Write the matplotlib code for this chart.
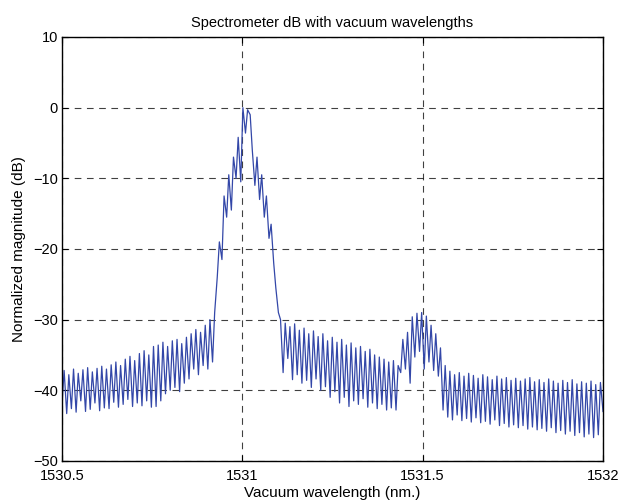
import numpy as np
import matplotlib
matplotlib.use("Agg")
import matplotlib.pyplot as plt

plt.rcParams['font.family'] = ['Liberation Sans', 'DejaVu Sans']

# one value per fringe period: trough (start of period) and peak (middle of period), in dB
troughs = [
    -42.0, -43.3, -42.6, -43.1, -41.5, -43.0, -42.7, -41.8, -42.9, -42.5,
    -42.6, -41.7, -42.4, -42.0, -41.3, -42.3, -41.8, -42.2, -41.5, -42.4,
    -42.3, -41.5, -40.5, -40.0, -39.6, -40.2, -39.0, -38.4, -37.0, -37.8, -36.5,
    -37.0, -36.0, -24.0, -21.5, -15.5, -14.5, -10.0, -10.5, -3.6, -1.0,
    -11.0, -13.0, -15.5, -18.5, -22.0, -29.0,
    -37.5, -35.5, -38.5, -37.8, -39.0, -38.6, -39.6, -38.4, -40.0, -39.5,
    -41.0, -40.2, -41.8, -41.0, -42.3, -41.5, -42.0, -41.2, -42.4, -41.8,
    -42.6, -42.0, -42.8, -42.5, -42.8,
    -37.5, -37.0, -39.0, -35.3, -34.5, -37.0, -36.0, -37.2, -38.0, -42.8,
    -43.8, -44.2, -43.5, -44.3, -44.0, -44.5, -43.9, -44.6, -44.4, -44.8,
    -44.2, -45.0, -44.7, -45.2, -44.9, -45.3, -45.0, -45.5, -45.2, -45.6,
    -45.4, -45.8, -45.3, -46.0, -45.7, -46.2, -45.8, -46.4, -46.0, -46.6,
    -46.2, -46.7, -46.3,
]
peaks = [
    -37.2, -37.8, -37.0, -37.6, -37.1, -36.8, -37.4, -36.9, -36.6, -37.0,
    -36.4, -36.0, -36.5, -35.6, -35.2, -35.8, -34.8, -34.4, -35.0, -33.8,
    -33.6, -33.2, -33.8, -33.0, -32.8, -33.4, -32.5, -32.0, -31.4, -31.8, -30.8,
    -30.0, -29.0, -19.0, -12.5, -9.5, -7.0, -4.2, 0.0, -0.3, -6.0,
    -7.0, -9.5, -12.5, -16.5, -25.5, -30.0,
    -30.5, -31.0, -30.6, -31.5, -31.2, -32.0, -31.6, -32.4, -32.0, -33.0,
    -32.5, -33.2, -32.8, -33.6, -33.3, -34.0, -33.8, -34.5, -34.2, -35.0,
    -35.3, -35.6, -36.0, -35.8, -36.5,
    -32.8, -31.8, -29.6, -29.1, -29.0, -29.5, -30.8, -32.0, -34.0, -36.5,
    -37.3, -37.8, -37.5, -38.0, -37.6, -37.9, -38.3, -37.8, -38.1, -38.5,
    -38.0, -38.4, -38.2, -38.6, -38.3, -38.7, -38.4, -38.2, -38.8, -38.5,
    -38.9, -38.4, -38.7, -39.0, -38.6, -38.9, -38.5, -39.1, -38.8, -39.0,
    -38.7, -39.2, -38.9,
]
end_value = -43.0

wl_start, wl_end = 1530.5, 1532.0
xticks = [1530.5, 1531, 1531.5, 1532]
yticks = [-50, -40, -30, -20, -10, 0, 10]

n = len(peaks)
step = (wl_end - wl_start) / n
start = wl_start + step * np.arange(n)
wl = np.column_stack([start, start + 0.45 * step]).ravel()
db = np.column_stack([troughs, peaks]).ravel()
wl = np.append(wl, wl_end)
db = np.append(db, end_value)

fig = plt.figure(figsize=(6.2, 5.04), dpi=100)
ax = fig.add_axes([0.1, 0.0855, 0.8726, 0.8411])

ax.plot(wl, db, color='#3347a8', lw=0.9)

ax.set_xlim(wl_start, wl_end)
ax.set_ylim(-50, 10)
ax.set_xticks(xticks)
ax.set_xticklabels(['1530.5', '1531', '1531.5', '1532'])
ax.set_yticks(yticks)
ax.grid(True, color='black', linestyle=(0, (6, 5)), linewidth=0.8, alpha=0.75)
ax.tick_params(direction='in', top=True, right=True, labelsize=10.5, length=4)
ax.tick_params(axis='x', pad=6)
ax.tick_params(axis='y', pad=3)
for s in ax.spines.values():
    s.set_linewidth(1.0)

ax.set_title('Spectrometer dB with vacuum wavelengths', fontsize=10.5, pad=7)
ax.set_xlabel('Vacuum wavelength (nm.)', fontsize=11, labelpad=2)
ax.set_ylabel('Normalized magnitude (dB)', fontsize=11, labelpad=5)

fig.savefig('out.png', dpi=100)
